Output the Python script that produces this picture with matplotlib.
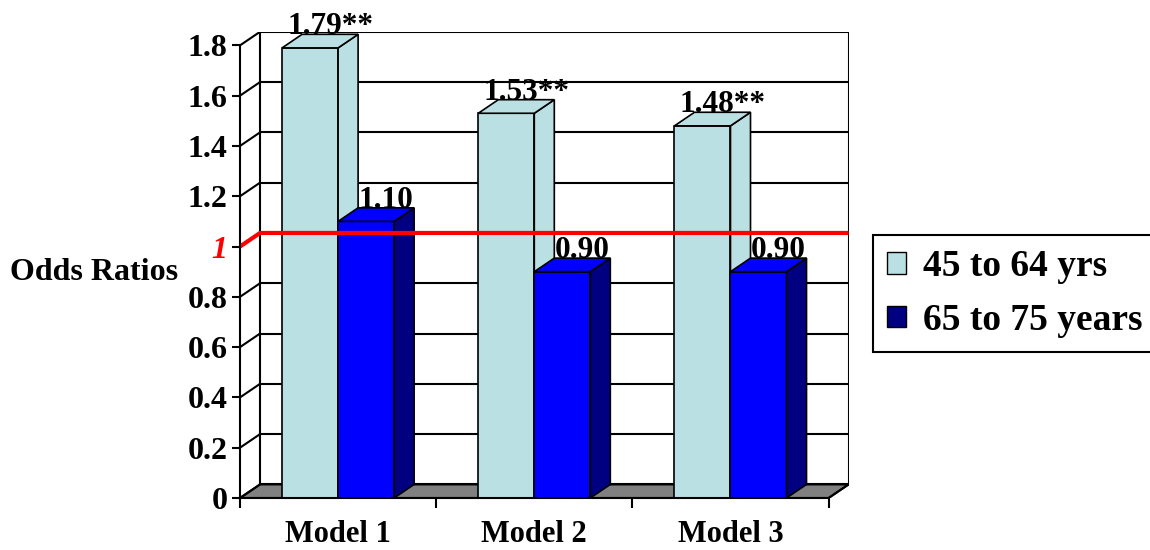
import matplotlib.pyplot as plt
from matplotlib.patches import Polygon, Patch

plt.rcParams['font.family'] = ['Liberation Serif', 'DejaVu Serif']
plt.rcParams['font.weight'] = 'bold'

MODELS = ["Model 1", "Model 2", "Model 3"]
SERIES = ["45 to 64 yrs", "65 to 75 years"]
ODDS_45_64 = [1.79, 1.53, 1.48]
ODDS_65_75 = [1.10, 0.90, 0.90]
STARS_45_64 = ["**", "**", "**"]
STARS_65_75 = ["", "", ""]
Y_TICKS = [0, 0.2, 0.4, 0.6, 0.8, 1.0, 1.2, 1.4, 1.6, 1.8]
REFERENCE = 1.0

LIGHT = "#bbe0e3"
BLUE = "#0000ff"
NAVY = "#000080"
FLOOR = "#808080"

# fake 3d depth, in data units
DX = 0.102
DY = 0.054
BAR_W = 0.2855
TOP = Y_TICKS[-1]


def draw_bar(ax, x0, v, front, side, top):
    kw = dict(edgecolor="black", linewidth=1.2, zorder=3)
    ax.add_patch(Polygon([(x0, 0), (x0 + BAR_W, 0), (x0 + BAR_W, v), (x0, v)],
                         facecolor=front, **kw))
    ax.add_patch(Polygon([(x0 + BAR_W, 0), (x0 + BAR_W + DX, DY),
                          (x0 + BAR_W + DX, v + DY), (x0 + BAR_W, v)],
                         facecolor=side, **kw))
    ax.add_patch(Polygon([(x0, v), (x0 + BAR_W, v),
                          (x0 + BAR_W + DX, v + DY), (x0 + DX, v + DY)],
                         facecolor=top, **kw))


def bar_label(ax, x0, v, text):
    ax.annotate(text, (x0 + BAR_W / 2 + DX, v + DY), textcoords="offset points",
                xytext=(0, 0), ha="center", va="baseline", fontsize=22.5,
                fontweight="bold", zorder=4, annotation_clip=False)


def main():
    n = len(MODELS)
    fig = plt.figure(figsize=(11.5, 5.5), dpi=100)
    ax = fig.add_axes([240 / 1150, 52 / 550, 608.6 / 1150, 466.2 / 550])
    ax.set_xlim(0, n + DX)
    ax.set_ylim(0, TOP + DY)

    # floor
    ax.add_patch(Polygon([(0, 0), (n, 0), (n + DX, DY), (DX, DY)],
                         facecolor=FLOOR, edgecolor="black", linewidth=1.5, zorder=1))

    # back wall grid and side wall
    line = dict(color="black", linewidth=1.5, zorder=1)
    for v in Y_TICKS:
        ax.plot([DX, n + DX], [v + DY, v + DY], **line)
        ax.plot([0, DX], [v, v + DY], **line)
    ax.plot([DX, DX], [DY, TOP + DY], **line)
    ax.plot([n + DX, n + DX], [DY, TOP + DY], **line)
    ax.plot([n, n + DX], [0, DY], **line)

    for i in range(n):
        x_light = i + 0.5 - BAR_W
        x_dark = i + 0.5
        draw_bar(ax, x_light, ODDS_45_64[i], LIGHT, LIGHT, LIGHT)
        draw_bar(ax, x_dark, ODDS_65_75[i], BLUE, NAVY, BLUE)
        bar_label(ax, x_light, ODDS_45_64[i], f"{ODDS_45_64[i]:.2f}{STARS_45_64[i]}")
        bar_label(ax, x_dark, ODDS_65_75[i], f"{ODDS_65_75[i]:.2f}{STARS_65_75[i]}")

    # odds ratio of 1
    ax.plot([0, DX, n + DX], [REFERENCE, REFERENCE + DY, REFERENCE + DY],
            color="red", linewidth=3, zorder=5, solid_capstyle="butt")

    for side in ["top", "right"]:
        ax.spines[side].set_visible(False)
    ax.spines["left"].set_bounds(0, TOP)
    ax.spines["bottom"].set_bounds(0, n)
    for side in ["left", "bottom"]:
        ax.spines[side].set_linewidth(1.5)
        ax.spines[side].set_zorder(6)

    ax.set_yticks(Y_TICKS, [f"{v:g}" for v in Y_TICKS], fontsize=23, fontweight="bold")
    ax.tick_params(axis="y", length=6, width=1.5, pad=3)
    for v, lab in zip(Y_TICKS, ax.get_yticklabels()):
        if v == REFERENCE:
            lab.set_color("red")
            lab.set_style("italic")

    ax.set_xticks([i + 0.5 for i in range(n)], MODELS, fontsize=22, fontweight="bold")
    ax.set_xticks(range(n + 1), minor=True)
    ax.tick_params(axis="x", which="major", length=0, pad=16)
    ax.tick_params(axis="x", which="minor", length=7, width=1.5)

    fig.text(10 / 1150, 1 - 272 / 550, "Odds Ratios", ha="left", va="center",
             fontsize=23, fontweight="bold")

    handles = [Patch(facecolor=LIGHT, edgecolor="black"),
               Patch(facecolor=NAVY, edgecolor="black")]
    leg = fig.legend(handles, SERIES, loc="upper left",
                     bbox_to_anchor=(873 / 1150, 1 - 235 / 550),
                     frameon=True, fancybox=False, edgecolor="black", framealpha=1,
                     prop=dict(weight="bold", size=27), handlelength=0.5,
                     handleheight=0.5, handletextpad=0.45, labelspacing=0.5,
                     borderpad=0.38, borderaxespad=0)
    leg.get_frame().set_linewidth(1.5)

    fig.savefig("out.png", dpi=100)


if __name__ == "__main__":
    main()
